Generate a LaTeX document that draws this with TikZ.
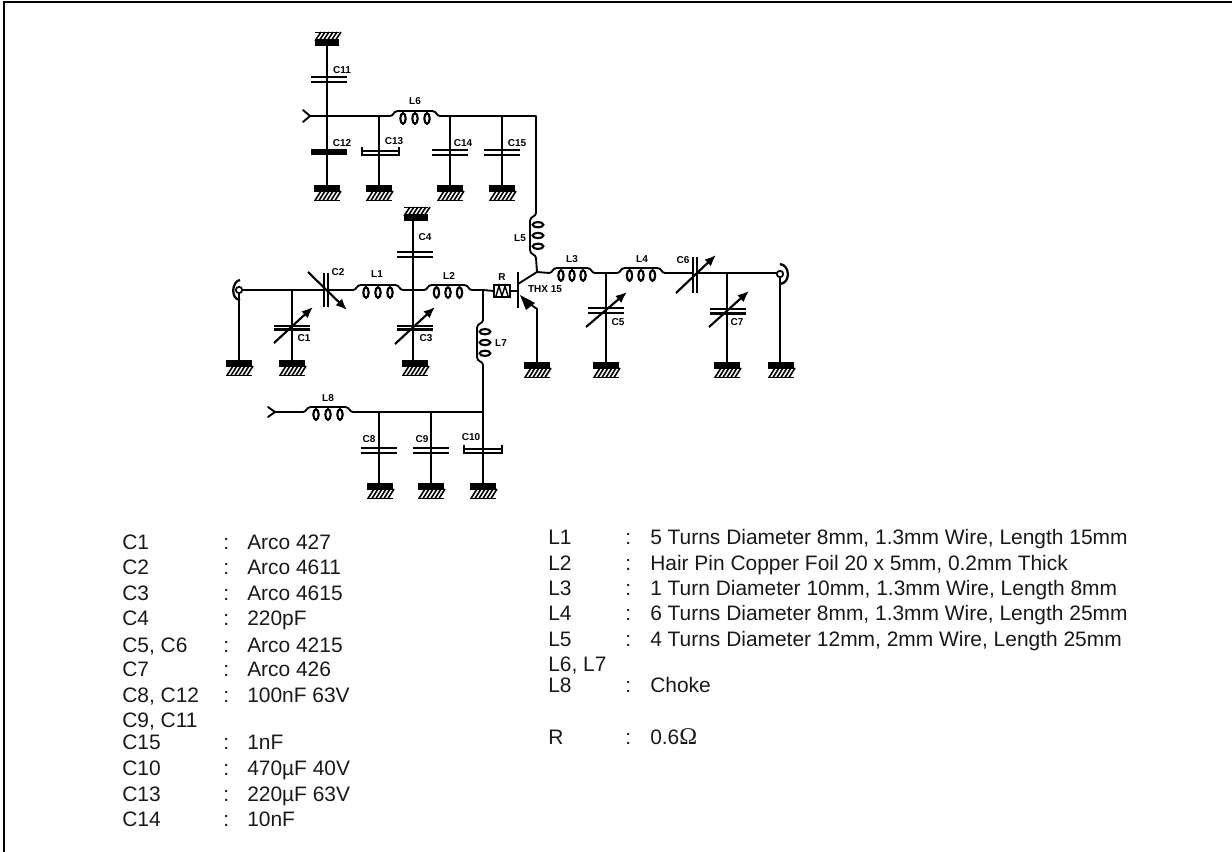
\documentclass[tikz,border=0pt]{standalone}
\usepackage{fontspec}
\setmainfont{Liberation Sans}
\newfontfamily\omegafont{Liberation Serif}
\usetikzlibrary{arrows.meta}
\tikzset{
  wire/.style={line width=1.4pt,line cap=round,line join=round},
  thin wire/.style={line width=1.1pt,line cap=round},
  plate/.style={line width=1.8pt},
  trim/.style={line width=1.6pt,-{Latex[length=8.5pt,width=7pt]}},
  tag/.style={inner sep=0pt,font=\fontsize{7.5}{8}\selectfont\bfseries},
  listing/.style={inner sep=0pt,anchor=base west,font=\fontsize{15.7}{17}\selectfont,text=black!90},
}
% ground symbols: solid bar plus hatching
\newcommand{\gndbelow}[2]{%
  \fill (#1-13,#2) rectangle (#1+13,#2+7);
  \foreach \k in {-12,-8,...,8}{\draw[line width=1.2pt] (#1+\k,#2+15.5) -- (#1+\k+6,#2+6);}
  \draw[line width=0.7pt] (#1-13,#2+15.5) -- (#1+13,#2+15.5);
}
\newcommand{\gndabove}[2]{%
  \fill (#1-12,#2) rectangle (#1+12,#2-7);
  \foreach \k in {-12,-8,...,8}{\draw[line width=1.2pt] (#1+\k,#2-5) -- (#1+\k+6,#2-14);}
  \draw[line width=0.7pt] (#1-12,#2-14) -- (#1+12,#2-14);
}
% fixed capacitor with horizontal plates
\newcommand{\capH}[4]{%
  \draw[plate] (#1-#4,#2) -- (#1+#4,#2);
  \draw[plate] (#1-#4,#3) -- (#1+#4,#3);
}
% horizontal coil: x0 x1 y
\newcommand{\coilH}[3]{%
  \draw[wire] (#1,#3) .. controls (#1+4,#3) and (#1+3,#3-5) .. (#1+8,#3-5)
     -- (#2-8,#3-5) .. controls (#2-3,#3-5) and (#2-4,#3) .. (#2,#3);
  \foreach \f in {0.26,0.5,0.74}{
    \draw[line width=1.6pt] ({#1+\f*(#2-#1)},#3+2.5) ellipse [x radius=2pt,y radius=4pt];
  }
}
% vertical coil: x y0 y1 (hump to the left, loops to the right)
\newcommand{\coilV}[3]{%
  \draw[wire] (#1,#2) .. controls (#1,#2+4) and (#1-6,#2+3) .. (#1-6,#2+8)
     -- (#1-6,#3-8) .. controls (#1-6,#3-3) and (#1,#3-4) .. (#1,#3);
  \foreach \f in {0.26,0.5,0.74}{
    \draw[line width=1.6pt] (#1+2,{#2+\f*(#3-#2)}) ellipse [x radius=4pt,y radius=2pt];
  }
}
\newcommand{\rowC}[4]{%
  \node[listing] (p#1) at (122,#2) {#3};
  \node[listing] (q#1) at (223,#2) {:};
  \node[listing] (r#1) at (247,#2) {#4};
}
\newcommand{\rowL}[4]{%
  \node[listing] (s#1) at (548,#2) {#3};
  \node[listing] (t#1) at (625,#2) {:};
  \node[listing] (u#1) at (650,#2) {#4};
}
\begin{document}
\begin{tikzpicture}[x=0.75pt,y=-0.75pt]
\useasboundingbox (0,0) rectangle (1232,852);
% frame
\draw[line width=1.5pt] (4,852) -- (4,2.5) -- (1232,2.5);

% --- upper supply section ---
\coordinate (inA) at (310,116);
\coordinate (jA) at (327,116);
\coordinate (l6a) at (390,116);
\coordinate (l6b) at (440,116);
\coordinate (c13j) at (379,116);
\coordinate (c14j) at (450,116);
\coordinate (c15j) at (502,116);
\coordinate (cornerA) at (536,116);
\draw[wire] (303,110) -- (inA) -- (303,122);
\draw[wire] (inA) -- (jA) -- (c13j) -- (l6a);
\draw[wire] (l6b) -- (c14j) -- (c15j) -- (cornerA) -- (536,213);
\coilH{390}{440}{116}
\node[tag] (tL6) at (415,101) {L6};
% C11/C12
\draw[wire] (327,46) -- (jA) -- (327,185);
\gndabove{327}{46}
\capH{329}{77}{82}{18}
\node[tag] (tC11) at (342,70) {C11};
\draw[line width=4pt] (311,152) -- (347,152);
\gndbelow{327}{185}
\node[tag] (tC12) at (342,143) {C12};
% C13
\draw[thin wire] (c13j) -- (379,185);
\draw[plate] (362,151) -- (399,151);
\draw[line width=1.2pt] (362,147) -- (362,155) -- (399,155) -- (399,147);
\gndbelow{379}{185}
\node[tag] (tC13) at (394,141) {C13};
% C14
\draw[wire] (c14j) -- (450,185);
\capH{450}{150}{155}{18}
\gndbelow{450}{185}
\node[tag] (tC14) at (463,143) {C14};
% C15
\draw[wire] (c15j) -- (502,185);
\capH{502}{150}{155}{18}
\gndbelow{502}{185}
\node[tag] (tC15) at (517,143) {C15};

% --- input section ---
\coordinate (conL) at (239,290);
\coordinate (c1j) at (292,290);
\coordinate (c2a) at (324,290);
\coordinate (c2b) at (328,290);
\coordinate (l1a) at (353,290);
\coordinate (l1b) at (403,290);
\coordinate (jB) at (413,290);
\coordinate (l2a) at (424,290);
\coordinate (l2b) at (472,290);
\coordinate (jC) at (483,290);
\draw[line width=1.3pt] (conL) circle [radius=2.4pt];
\draw[line width=1.7pt] (240,280) .. controls (232,281) and (230,299) .. (240,300);
\draw[wire] (243,290) -- (c1j) -- (c2a);
\draw[thin wire] (239,293) -- (239,360);
\gndbelow{239}{360}
\draw[wire] (c1j) -- (292,360);
\capH{292}{326}{329.5}{18}
\draw[trim] (274,343) -- (313,307);
\gndbelow{292}{360}
\node[tag] (tC1) at (304,338) {C1};
\draw[plate] (324,273) -- (324,307);
\draw[plate] (328,273) -- (328,307);
\draw[trim] (308,272) -- (347,310);
\node[tag] (tC2) at (338,272) {C2};
\draw[wire] (c2b) -- (l1a);
\coilH{353}{403}{290}
\node[tag] (tL1) at (377,274) {L1};
\draw[wire] (l1b) -- (jB) -- (l2a);
\coilH{424}{472}{290}
\node[tag] (tL2) at (449,276) {L2};
\draw[wire] (413,221) -- (jB) -- (413,360);
\gndabove{416}{221}
\capH{415}{252}{257}{18}
\node[tag] (tC4) at (425,237) {C4};
\capH{415}{326}{329.5}{18}
\draw[trim] (395,344) -- (435,307);
\gndbelow{415}{360}
\node[tag] (tC3) at (426,338) {C3};

% --- transistor ---
\coordinate (rA) at (494,291);
\coordinate (rB) at (510,291);
\coordinate (base) at (518,291);
\coordinate (coll) at (537,272);
\coordinate (emit) at (537,309);
\draw[wire] (l2b) -- (jC) -- (rA);
\draw[line width=1.1pt] (494,285) rectangle (510,297);
\draw[line width=1.1pt] (496,296) -- (499,286) -- (502,296) -- (505,286) -- (508,296);
\node[tag] (tR) at (502,277) {R};
\draw[wire] (rB) -- (base);
\draw[line width=2.2pt] (518,272) -- (518,308);
\draw[wire] (518,284) -- (coll);
\draw[wire] (530,304) -- (emit) -- (537,362);
\fill (520,295) -- (535,303) -- (526,310) -- cycle;
\gndbelow{537}{362}
\node[tag] (tT) at (545,289) {THX 15};
\draw[wire] (536,258) -- (coll);
\coilV{536}{213}{258}
\node[tag] (tL5) at (520,238) {L5};
% L7 and bias section
\coilV{483}{320}{365}
\draw[wire] (jC) -- (483,320);
\node[tag] (tL7) at (501,343) {L7};
\coordinate (jD) at (483,412);
\coordinate (l8a) at (303,412);
\coordinate (l8b) at (353,412);
\coordinate (c8j) at (379,412);
\coordinate (c9j) at (431,412);
\coordinate (inB) at (275,412);
\draw[wire] (483,365) -- (jD) -- (483,483);
\draw[wire] (268,407) -- (inB) -- (268,417);
\draw[wire] (inB) -- (l8a);
\coilH{303}{353}{412}
\node[tag] (tL8) at (328,398) {L8};
\draw[wire] (l8b) -- (c8j) -- (c9j) -- (jD);
\draw[wire] (c8j) -- (379,483);
\capH{379}{448}{453}{18}
\gndbelow{380}{483}
\node[tag] (tC8) at (369,439) {C8};
\draw[wire] (c9j) -- (431,483);
\capH{431}{448}{453}{18}
\gndbelow{431}{483}
\node[tag] (tC9) at (422,439) {C9};
\draw[plate] (465,449) -- (501,449);
\draw[line width=1.2pt] (464,445) -- (464,453) -- (502,453) -- (502,445);
\gndbelow{483}{483}
\node[tag] (tC10) at (471,437) {C10};

% --- output section ---
\coordinate (l3a) at (549,273);
\coordinate (l3b) at (595,273);
\coordinate (c5j) at (606,273);
\coordinate (l4a) at (617,273);
\coordinate (l4b) at (665,273);
\coordinate (c6a) at (693,273);
\coordinate (c6b) at (697,273);
\coordinate (c7j) at (727,273);
\coordinate (conR) at (780,274);
\draw[wire] (coll) -- (l3a);
\coilH{549}{595}{273}
\node[tag] (tL3) at (572,259) {L3};
\draw[wire] (l3b) -- (c5j) -- (l4a);
\coilH{617}{665}{273}
\node[tag] (tL4) at (642,259) {L4};
\draw[wire] (c5j) -- (606,362);
\capH{606}{308}{313}{18}
\draw[trim] (586,327) -- (627,292);
\gndbelow{606}{362}
\node[tag] (tC5) at (618,322) {C5};
\draw[wire] (l4b) -- (c6a);
\draw[plate] (693,257) -- (693,293);
\draw[plate] (697,257) -- (697,293);
\draw[trim] (676,293) -- (716,255);
\node[tag] (tC6) at (683,260) {C6};
\draw[wire] (c6b) -- (c7j) -- (777,273);
\draw[wire] (c7j) -- (727,362);
\capH{728}{309}{313.5}{18}
\draw[trim] (709,327) -- (749,291);
\gndbelow{727}{362}
\node[tag] (tC7) at (737,322) {C7};
\draw[line width=1.3pt] (conR) circle [radius=2.4pt];
\draw[line width=1.7pt] (780,264) .. controls (790,265) and (791,283) .. (780,284);
\draw[thin wire] (780,278) -- (780,362);
\gndbelow{781}{362}

% --- parts list ---
\rowC{a}{549}{C1}{Arco 427}
\rowC{b}{574}{C2}{Arco 4611}
\rowC{c}{600}{C3}{Arco 4615}
\rowC{d}{625}{C4}{220pF}
\rowC{e}{652}{C5, C6}{Arco 4215}
\rowC{f}{676}{C7}{Arco 426}
\rowC{g}{702}{C8, C12}{100nF 63V}
\node[listing] (ph) at (122,727) {C9, C11};
\rowC{h}{749}{C15}{1nF}
\rowC{i}{775}{C10}{470µF 40V}
\rowC{j}{801}{C13}{220µF 63V}
\rowC{k}{826}{C14}{10nF}
\rowL{a}{544}{L1}{5 Turns Diameter 8mm, 1.3mm Wire, Length 15mm}
\rowL{b}{570}{L2}{Hair Pin Copper Foil 20 x 5mm, 0.2mm Thick}
\rowL{c}{595}{L3}{1 Turn Diameter 10mm, 1.3mm Wire, Length 8mm}
\rowL{d}{620}{L4}{6 Turns Diameter 8mm, 1.3mm Wire, Length 25mm}
\rowL{e}{646}{L5}{4 Turns Diameter 12mm, 2mm Wire, Length 25mm}
\node[listing] (sh) at (548,671) {L6, L7};
\rowL{f}{692}{L8}{Choke}
\rowL{g}{744}{R}{0.6{\omegafont\fontsize{18}{18}\selectfont Ω}}
\end{tikzpicture}
\end{document}
